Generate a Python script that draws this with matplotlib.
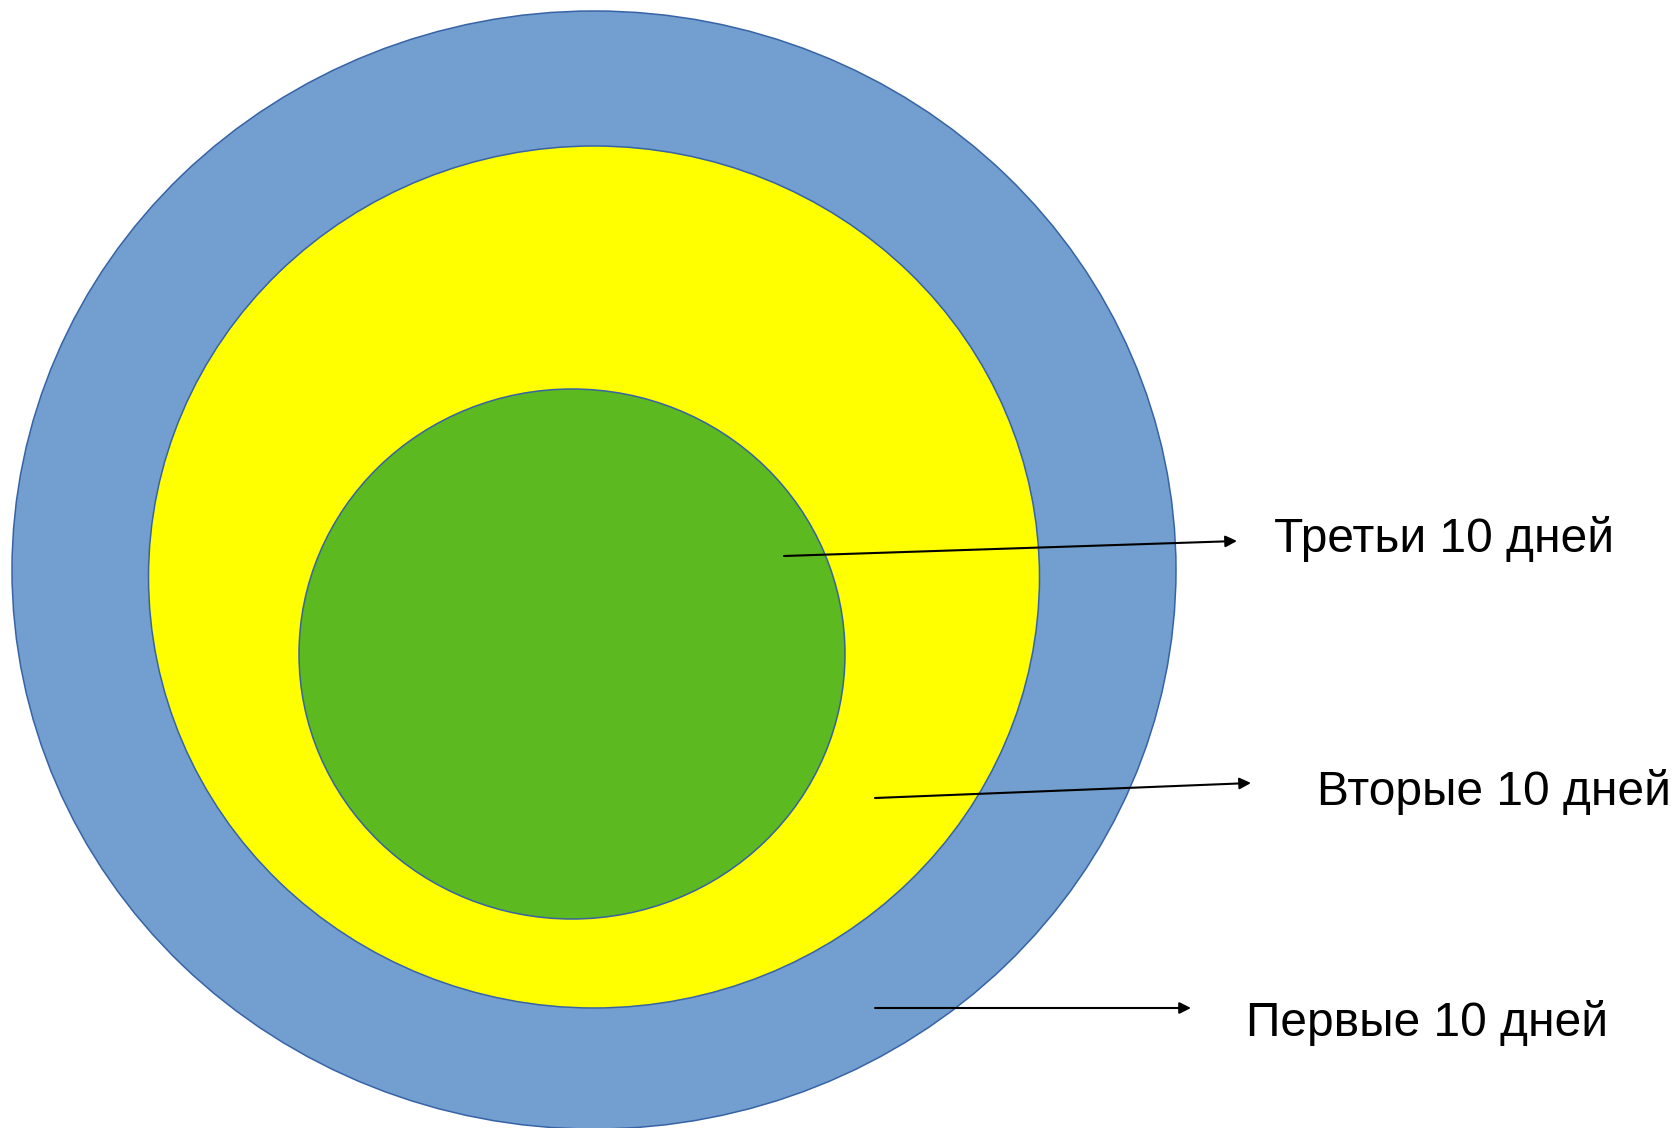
import matplotlib.pyplot as plt
from matplotlib.patches import Ellipse

plt.rcParams['font.family'] = ['Liberation Sans', 'DejaVu Sans']

# Rings, outer to inner: label, colour, centre (x, y), width, height (pixels)
labels = ['Первые 10 дней', 'Вторые 10 дней', 'Третьи 10 дней']
colors = ['#729fcf', '#ffff00', '#5cb91f']
centers = [(594, 570), (594, 577), (572, 654)]
widths = [1164, 891, 546]
heights = [1118, 862, 530]

# arrow start, arrow end, text position (left, baseline)
arrow_from = [(875, 1008), (875, 798), (784, 556)]
arrow_to = [(1191, 1008), (1251, 783), (1237, 541)]
text_pos = [(1246, 1036), (1317, 805), (1274, 552)]

W, H = 1677, 1128
fig = plt.figure(figsize=(W / 100, H / 100), dpi=100)
ax = fig.add_axes([0, 0, 1, 1])
ax.set_xlim(0, W)
ax.set_ylim(H, 0)
ax.axis('off')

for c, col, w, h in zip(centers, colors, widths, heights):
    ax.add_patch(Ellipse(c, w, h, facecolor=col, edgecolor='#3763a6', lw=1.1))

for lab, p0, p1, tp in zip(labels, arrow_from, arrow_to, text_pos):
    ax.annotate('', xy=p1, xytext=p0,
                arrowprops=dict(arrowstyle='-|>', color='black', lw=1.5,
                                mutation_scale=17, shrinkA=0, shrinkB=0))
    ax.text(tp[0], tp[1], lab, fontsize=34.5, ha='left', va='baseline', color='black')

fig.savefig('out.png', dpi=100)
